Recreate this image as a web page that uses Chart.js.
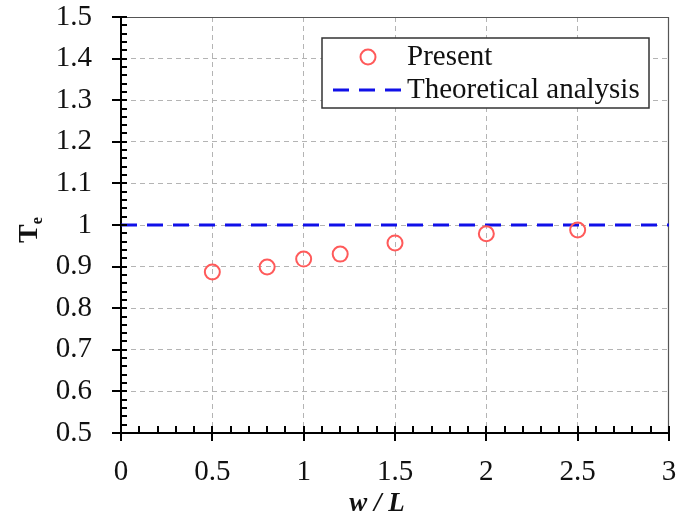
<!DOCTYPE html>
<html>
<head>
<meta charset="utf-8">
<script src="https://cdn.jsdelivr.net/npm/chart.js@4"></script>
<style>
  body { margin: 0; background: #fff; }
  #wrap { width: 690px; height: 517px; }
</style>
</head>
<body>
<div id="wrap"><canvas id="chart" width="690" height="517"></canvas></div>
<script>
// data
const wL = [0.5, 0.8, 1.0, 1.2, 1.5, 2.0, 2.5];
const tePresent = [0.887, 0.899, 0.918, 0.930, 0.957, 0.979, 0.988];
const theoryX = [0, 3];
const theoryY = [1, 1];
const xTickLabels = ['0', '0.5', '1', '1.5', '2', '2.5', '3'];
const yTickLabels = ['0.5', '0.6', '0.7', '0.8', '0.9', '1', '1.1', '1.2', '1.3', '1.4', '1.5'];

const serif = '"Liberation Serif", "Times New Roman", serif';

// fixed axis box sizes, no extra room for edge labels
function fixScale(size) {
  return s => {
    if (s.isHorizontal()) s.height = size; else s.width = size;
    s.paddingTop = s.paddingBottom = s.paddingLeft = s.paddingRight = 0;
  };
}

// ticks, frame, legend and axis titles
const decor = {
  id: 'decor',
  beforeDatasetsDraw(chart) {
    const { ctx, chartArea: a } = chart;
    ctx.save();
    ctx.strokeStyle = '#555';
    ctx.lineWidth = 1.2;
    ctx.beginPath();
    ctx.moveTo(a.left, a.top + 0.5);
    ctx.lineTo(a.right - 0.5, a.top + 0.5);
    ctx.lineTo(a.right - 0.5, a.bottom);
    ctx.stroke();
    ctx.restore();
  },
  afterDatasetsDraw(chart) {
    const { ctx, chartArea: a, scales: { x, y } } = chart;
    ctx.save();
    ctx.strokeStyle = '#000';
    ctx.lineWidth = 2;
    ctx.beginPath();
    // x ticks, minor every 0.1
    for (let i = 0; i <= 30; i++) {
      const px = Math.round(x.getPixelForValue(i / 10));
      const major = i % 5 === 0;
      ctx.moveTo(px, a.bottom + (major ? 8 : 0));
      ctx.lineTo(px, a.bottom - 7);
    }
    // y ticks, minor every 0.02
    for (let i = 0; i <= 50; i++) {
      const py = Math.round(y.getPixelForValue(0.5 + i / 50));
      const major = i % 5 === 0;
      ctx.moveTo(a.left - (major ? 9 : 0), py);
      ctx.lineTo(a.left + 6, py);
    }
    ctx.stroke();

    // legend
    const ds = chart.data.datasets;
    const bx = 322, by = 38, bw = 327, bh = 70;
    ctx.fillStyle = '#fff';
    ctx.fillRect(bx, by, bw, bh);
    ctx.strokeStyle = '#333';
    ctx.lineWidth = 1.5;
    ctx.strokeRect(bx, by, bw, bh);

    ctx.strokeStyle = ds[0].borderColor;
    ctx.lineWidth = ds[0].pointBorderWidth;
    ctx.beginPath();
    ctx.arc(368, 57, ds[0].pointRadius, 0, Math.PI * 2);
    ctx.stroke();

    ctx.strokeStyle = ds[1].borderColor;
    ctx.lineWidth = ds[1].borderWidth;
    ctx.setLineDash([16, 10]);
    ctx.beginPath();
    ctx.moveTo(333, 90);
    ctx.lineTo(401, 90);
    ctx.stroke();
    ctx.setLineDash([]);

    ctx.fillStyle = '#111';
    ctx.font = '29px ' + serif;
    ctx.textBaseline = 'middle';
    ctx.textAlign = 'left';
    ctx.fillText(ds[0].label, 407, 57);
    ctx.fillText(ds[1].label, 407, 90);

    // x title
    ctx.font = 'italic bold 27px ' + serif;
    ctx.textAlign = 'center';
    ctx.textBaseline = 'alphabetic';
    ctx.fillText('w / L', 377, 511);

    // y title T_e
    ctx.textAlign = 'left';
    ctx.translate(37, 243);
    ctx.rotate(-Math.PI / 2);
    ctx.font = 'bold 28px ' + serif;
    ctx.fillText('T', 0, 0);
    const tw = ctx.measureText('T').width;
    ctx.font = 'bold 16px ' + serif;
    ctx.fillText('e', tw, 5);
    ctx.restore();
  }
};

const ctx = document.getElementById('chart').getContext('2d');

new Chart(ctx, {
  type: 'scatter',
  data: {
    datasets: [{
      label: 'Present',
      data: wL.map((v, i) => ({ x: v, y: tePresent[i] })),
      borderColor: '#ff5a5a',
      backgroundColor: 'rgba(0,0,0,0)',
      pointRadius: 7.5,
      pointBorderWidth: 2,
      pointStyle: 'circle',
      order: 0
    }, {
      label: 'Theoretical analysis',
      type: 'line',
      data: theoryX.map((v, i) => ({ x: v, y: theoryY[i] })),
      borderColor: '#1010e8',
      borderWidth: 3,
      borderDash: [16, 10],
      pointRadius: 0,
      fill: false,
      order: 1
    }]
  },
  options: {
    responsive: false,
    animation: false,
    layout: { padding: { left: 0, top: 17, right: 21, bottom: 0 } },
    plugins: {
      legend: { display: false },
      tooltip: { enabled: false }
    },
    scales: {
      x: {
        type: 'linear',
        min: 0,
        max: 3,
        afterFit: fixScale(84),
        ticks: {
          stepSize: 0.5,
          padding: 22,
          color: '#111',
          font: { family: serif, size: 29 },
          maxRotation: 0,
          callback: (v, i) => xTickLabels[i]
        },
        grid: {
          drawTicks: false,
          lineWidth: 1,
          color: c => (c.tick && (c.tick.value === 0 || c.tick.value === 3)) ? 'rgba(0,0,0,0)' : '#b4b4b4'
        },
        border: { display: true, color: '#000', width: 2, dash: [5, 4] }
      },
      y: {
        type: 'linear',
        min: 0.5,
        max: 1.5,
        afterFit: fixScale(121),
        ticks: {
          stepSize: 0.1,
          padding: 29,
          color: '#111',
          font: { family: serif, size: 29 },
          callback: (v, i) => yTickLabels[i]
        },
        grid: {
          drawTicks: false,
          lineWidth: 1,
          color: c => (c.tick && (Math.abs(c.tick.value - 0.5) < 1e-6 || Math.abs(c.tick.value - 1.5) < 1e-6)) ? 'rgba(0,0,0,0)' : '#b4b4b4'
        },
        border: { display: true, color: '#000', width: 2, dash: [5, 4] }
      }
    }
  },
  plugins: [decor]
});
</script>
</body>
</html>
